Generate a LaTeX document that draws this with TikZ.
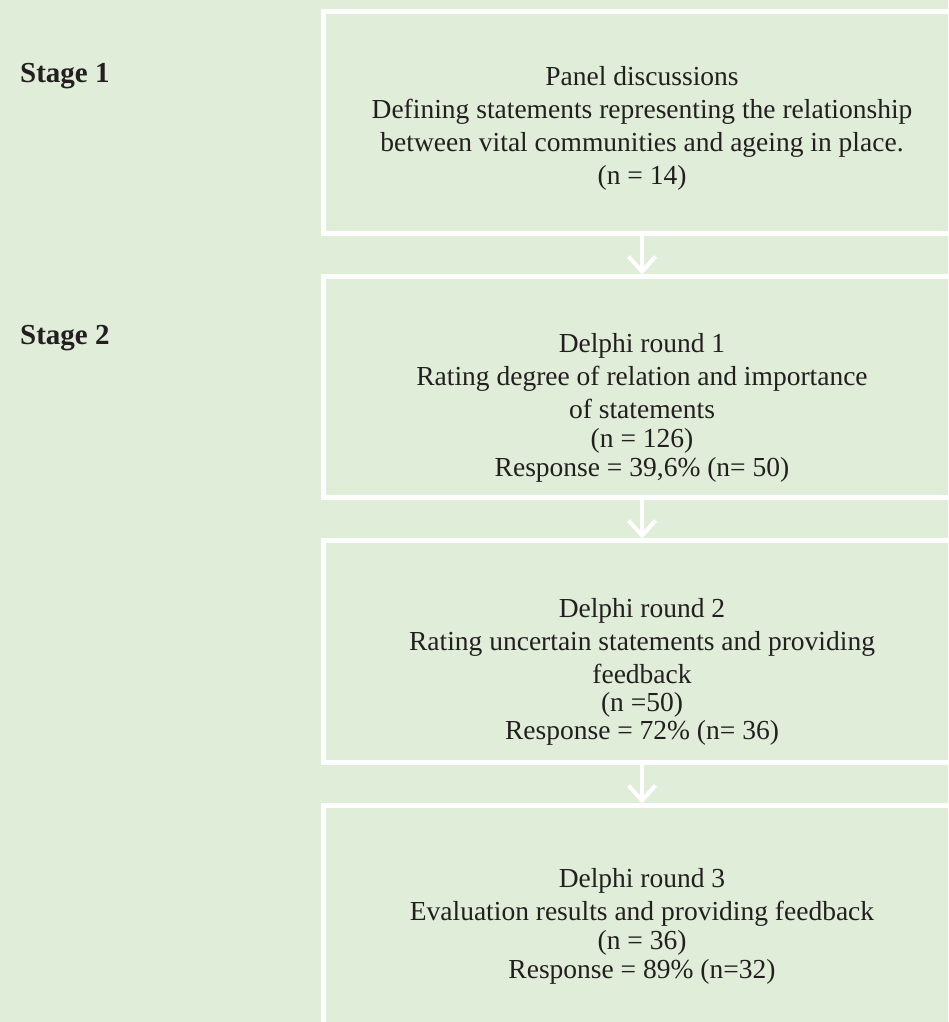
\documentclass[tikz,border=0pt]{standalone}
\usepackage{fontspec}
\setmainfont{Liberation Serif}
\usetikzlibrary{arrows.meta}
\definecolor{panelgreen}{RGB}{224,237,216}
\definecolor{inktext}{RGB}{35,31,32}
\tikzset{
  stagebox/.style={draw=white, line width=5pt, rectangle, inner sep=0pt, outer sep=0pt},
  boxtext/.style={align=center, text=inktext, font=\fontsize{27.5}{33}\selectfont, inner sep=0pt},
  stagelabel/.style={anchor=west, text=inktext, font=\fontsize{29}{32}\selectfont\bfseries, inner sep=0pt},
  flowarrow/.style={draw=white, line width=4pt, -{Straight Barb[length=15pt, width=27pt]}, shorten >=2pt}
}
\begin{document}
\begin{tikzpicture}[x=1pt, y=-1pt]
  % canvas
  \fill[panelgreen] (0,0) rectangle (948,1022);
  \useasboundingbox (0,0) rectangle (948,1022);
  \clip (0,0) rectangle (948,1022);

  % stage boxes (they run off the right edge; the last one off the bottom)
  \node[stagebox, minimum width=660pt, minimum height=222pt] (b1) at (653.5,122.5) {};
  \node[stagebox, minimum width=660pt, minimum height=221pt] (b2) at (653.5,387) {};
  \node[stagebox, minimum width=660pt, minimum height=222pt] (b3) at (653.5,651.5) {};
  \node[stagebox, minimum width=660pt, minimum height=240pt] (b4) at (653.5,925.5) {};

  % box contents
  \node[boxtext] (t1) at (642,128) {Panel discussions\\
    Defining statements representing the relationship\\
    between vital communities and ageing in place.\\
    (n = 14)};
  \node[boxtext] (t2) at (642,408) {Delphi round 1\\
    Rating degree of relation and importance\\
    of statements\\[-4pt]
    (n = 126)\\[-4pt]
    Response = 39,6\% (n= 50)};
  \node[boxtext] (t3) at (642,672) {Delphi round 2\\
    Rating uncertain statements and providing\\
    feedback\\[-5pt]
    (n =50)\\[-5pt]
    Response = 72\% (n= 36)};
  \node[boxtext] (t4) at (642,926) {Delphi round 3\\
    Evaluation results and providing feedback\\[-4pt]
    (n = 36)\\[-4pt]
    Response = 89\% (n=32)};

  % stage labels
  \node[stagelabel] (s1) at (20,76) {Stage 1};
  \node[stagelabel] (s2) at (20,338) {Stage 2};

  % connectors
  \draw[flowarrow] (t1 |- b1.south) -- (t2 |- b2.north);
  \draw[flowarrow] (t2 |- b2.south) -- (t3 |- b3.north);
  \draw[flowarrow] (t3 |- b3.south) -- (t4 |- b4.north);
\end{tikzpicture}
\end{document}
